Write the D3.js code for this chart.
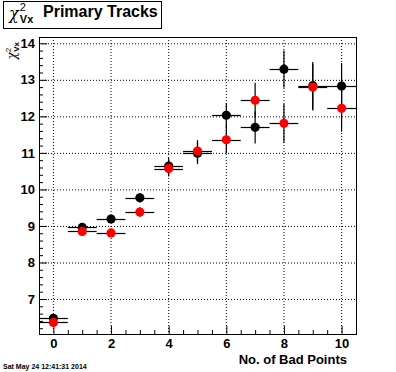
<!DOCTYPE html>
<html>
<head>
<meta charset="utf-8">
<script src="https://cdn.jsdelivr.net/npm/d3@7"></script>
<style>
  body { margin: 0; background: #fff; }
  text { font-family: "Liberation Sans", Arial, sans-serif; }
</style>
</head>
<body>
<div id="container"></div>
<script>
/* DATA */
const badPoints = [0, 1, 2, 3, 4, 5, 6, 7, 8, 9, 10]
const blackChi2 = [6.47, 8.96, 9.19, 9.77, 10.64, 10.99, 12.03, 11.70, 13.29, 12.84, 12.83]
const blackErr  = [0.05, 0.05, 0.07, 0.12, 0.22, 0.30, 0.33, 0.44, 0.51, 0.65, 0.63]
const redChi2   = [6.36, 8.85, 8.81, 9.38, 10.57, 11.05, 11.36, 12.44, 11.81, 12.80, 12.22]
const redErr    = [0.05, 0.05, 0.07, 0.13, 0.22, 0.30, 0.38, 0.48, 0.53, 0.64, 0.64]
const xErr = 0.5
const xTicks = [0, 2, 4, 6, 8, 10]
const yTicks = [7, 8, 9, 10, 11, 12, 13, 14]
const dateText = "Sat May 24 12:41:31 2014"

/* CONSTANTS */
const width = 396, height = 372
const frame = { left: 39, right: 356, top: 37, bottom: 334 }

const xScale = d3.scaleLinear().domain([-0.5, 10.5]).range([frame.left, frame.right])
const yScale = d3.scaleLinear().domain([6.042, 14.172]).range([frame.bottom, frame.top])

const svg = d3.select("#container")
  .append("svg")
  .attr("width", width)
  .attr("height", height)

svg.append("rect")
  .attr("width", width).attr("height", height)
  .attr("fill", "#fff")

// grid (dotted)
svg.append("g")
  .selectAll("line")
  .data(xTicks)
  .join("line")
  .attr("x1", d => xScale(d)).attr("x2", d => xScale(d))
  .attr("y1", frame.top).attr("y2", frame.bottom)
  .attr("stroke", "#000").attr("stroke-dasharray", "1,2")

svg.append("g")
  .selectAll("line")
  .data(yTicks)
  .join("line")
  .attr("x1", frame.left).attr("x2", frame.right)
  .attr("y1", d => yScale(d) + 0.5).attr("y2", d => yScale(d) + 0.5)
  .attr("stroke", "#000").attr("stroke-dasharray", "1,2")

// axes - ticks drawn inward
const xMinor = d3.range(-0.5, 10.51, 0.5).filter(d => !xTicks.includes(d))
const yMinor = d3.range(6.2, 14.01, 0.2).map(d => +d.toFixed(1)).filter(d => !yTicks.includes(d))

const xAxis = svg.append("g")
  .attr("transform", `translate(0,${frame.bottom})`)
  .call(d3.axisBottom(xScale).tickValues(xTicks).tickSize(-8).tickPadding(5).tickFormat(d3.format("d")))
xAxis.select(".domain").remove()
xAxis.selectAll("text")
  .attr("font-size", 13).attr("font-weight", "bold")

svg.append("g")
  .attr("transform", `translate(0,${frame.bottom})`)
  .call(d3.axisBottom(xScale).tickValues(xMinor).tickSize(-4).tickFormat(""))
  .select(".domain").remove()

const yAxis = svg.append("g")
  .attr("transform", `translate(${frame.left},0)`)
  .call(d3.axisLeft(yScale).tickValues(yTicks).tickSize(-8).tickPadding(4).tickFormat(d3.format("d")))
yAxis.select(".domain").remove()
yAxis.selectAll("text")
  .attr("font-size", 13).attr("font-weight", "bold")

svg.append("g")
  .attr("transform", `translate(${frame.left},0)`)
  .call(d3.axisLeft(yScale).tickValues(yMinor).tickSize(-4).tickFormat(""))
  .select(".domain").remove()

svg.selectAll(".tick line").attr("stroke", "#000")

// frame
svg.append("rect")
  .attr("x", frame.left + 0.5).attr("y", frame.top + 0.5)
  .attr("width", frame.right - frame.left).attr("height", frame.bottom - frame.top)
  .attr("fill", "none").attr("stroke", "#000")

// error bars + markers
function drawSeries(values, errs, color) {
  const g = svg.append("g")
  const pts = badPoints.map((x, i) => ({ x, y: values[i], e: errs[i] }))
  g.selectAll(".hbar")
    .data(pts)
    .join("line")
    .attr("x1", d => xScale(d.x - xErr)).attr("x2", d => xScale(d.x + xErr))
    .attr("y1", d => Math.round(yScale(d.y)) + 0.5).attr("y2", d => Math.round(yScale(d.y)) + 0.5)
    .attr("stroke", "#000").attr("stroke-width", 1.2)
  g.selectAll(".vbar")
    .data(pts)
    .join("line")
    .attr("x1", d => xScale(d.x)).attr("x2", d => xScale(d.x))
    .attr("y1", d => yScale(d.y - d.e)).attr("y2", d => yScale(d.y + d.e))
    .attr("stroke", "#000").attr("stroke-width", 1.2)
  g.selectAll("circle")
    .data(pts)
    .join("circle")
    .attr("cx", d => xScale(d.x))
    .attr("cy", d => yScale(d.y))
    .attr("r", 4.6)
    .attr("fill", color)
}
drawSeries(blackChi2, blackErr, "#000")
drawSeries(redChi2, redErr, "#f00")

// axis titles
svg.append("text")
  .attr("x", frame.right - 9).attr("y", 364)
  .attr("text-anchor", "end")
  .attr("font-size", 13).attr("font-weight", "bold")
  .text("No. of Bad Points")

const yTitle = svg.append("text")
  .attr("transform", `translate(16,${frame.top + 5}) rotate(-90)`)
  .attr("text-anchor", "end")
  .attr("font-size", 12)
yTitle.append("tspan").attr("font-family", "DejaVu Serif, serif").attr("font-style", "italic").text("χ")
yTitle.append("tspan").attr("font-size", 8).attr("dy", -5).text("2")
yTitle.append("tspan").attr("font-size", 8).attr("font-weight", "bold").attr("dx", -4).attr("dy", 8).text("Vx")

// title box
svg.append("rect")
  .attr("x", 3.5).attr("y", 1.5).attr("width", 158).attr("height", 27)
  .attr("fill", "#fff").attr("stroke", "#000")

const title = svg.append("text").attr("x", 9).attr("y", 19).attr("font-size", 16)
title.append("tspan").attr("font-family", "DejaVu Serif, serif").attr("font-style", "italic").text("χ")
title.append("tspan").attr("font-size", 11).attr("dx", 1).attr("dy", -8).text("2")
title.append("tspan").attr("font-size", 11).attr("font-weight", "bold").attr("dx", -6).attr("dy", 12).text("Vx")
title.append("tspan").attr("x", 43).attr("y", 17).attr("font-size", 16).attr("font-weight", "bold").text("Primary Tracks")

// date stamp
svg.append("text")
  .attr("x", 3).attr("y", 369)
  .attr("font-size", 7).attr("font-weight", "bold")
  .text(dateText)
</script>
</body>
</html>
